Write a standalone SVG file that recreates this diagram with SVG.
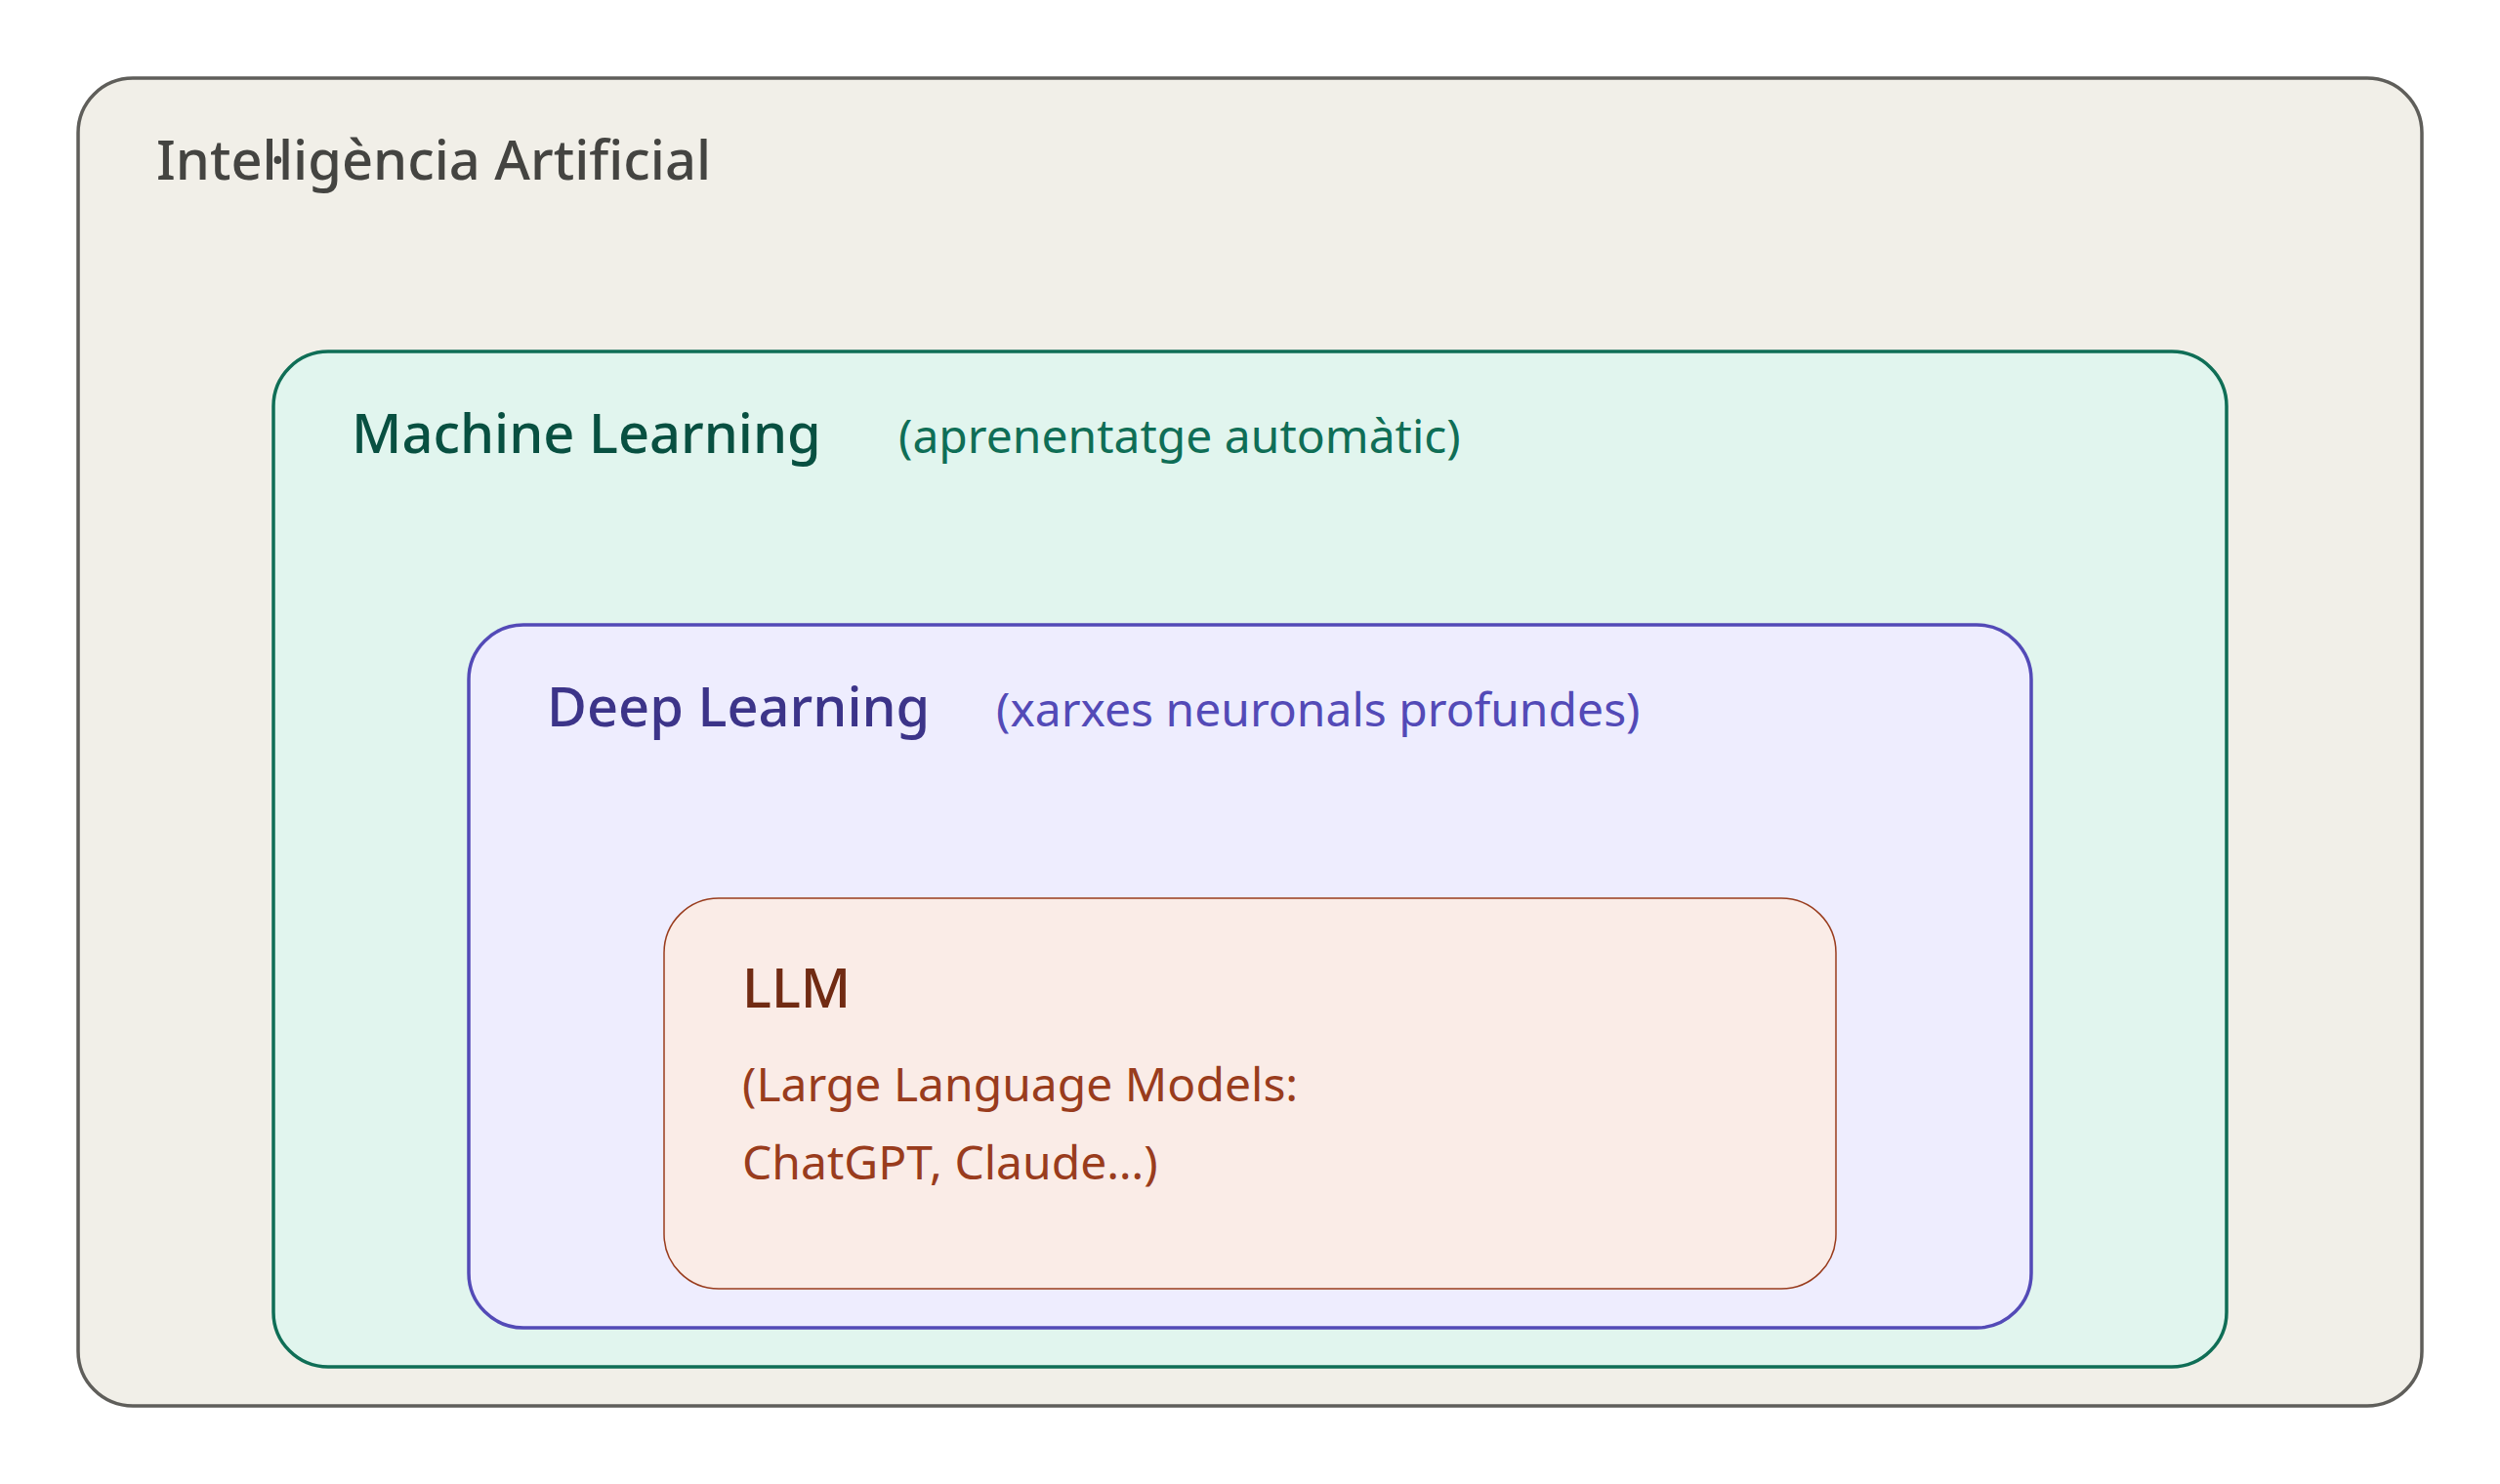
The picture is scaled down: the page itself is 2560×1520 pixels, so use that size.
<svg xmlns="http://www.w3.org/2000/svg" width="2560" height="1520" viewBox="0 0 2560 1520">
<style>
text{font-family:"Noto Sans","Open Sans","Liberation Sans",sans-serif}
.t{font-size:56px;font-weight:500}
.s{font-size:48px;font-weight:400}
</style>
<rect x="0" y="0" width="2560" height="1520" fill="#ffffff"/>
<g id="ai">
<rect x="80" y="80" width="2400" height="1360" rx="56" ry="56" fill="#f1efe8" stroke="#5f5e5a" stroke-width="3.5"/>
<text class="t" x="160" y="184" dx="0 0 0 0 0 -7 -7" fill="#444441">Intel·ligència Artificial</text>
</g>
<g id="ml">
<rect x="280" y="360" width="2000" height="1040" rx="56" ry="56" fill="#e1f5ee" stroke="#0f6e56" stroke-width="3.5"/>
<text class="t" x="360" y="464" fill="#085041">Machine Learning</text>
<text class="s" x="920" y="464" fill="#0f6e56">(aprenentatge automàtic)</text>
</g>
<g id="dl">
<rect x="480" y="640" width="1600" height="720" rx="56" ry="56" fill="#eeedfe" stroke="#534ab7" stroke-width="3.5"/>
<text class="t" x="560" y="744" fill="#3c3489">Deep Learning</text>
<text class="s" x="1020" y="744" fill="#534ab7">(xarxes neuronals profundes)</text>
</g>
<g id="llm">
<rect x="680" y="920" width="1200" height="400" rx="56" ry="56" fill="#faece7" stroke="#993c1d" stroke-width="1.5"/>
<text class="t" x="760" y="1032" fill="#712b13">LLM</text>
<text class="s" x="760" y="1128" fill="#993c1d">(Large Language Models:</text>
<text class="s" x="760" y="1208" fill="#993c1d">ChatGPT, Claude…)</text>
</g>
<g id="connectors"></g>
</svg>
